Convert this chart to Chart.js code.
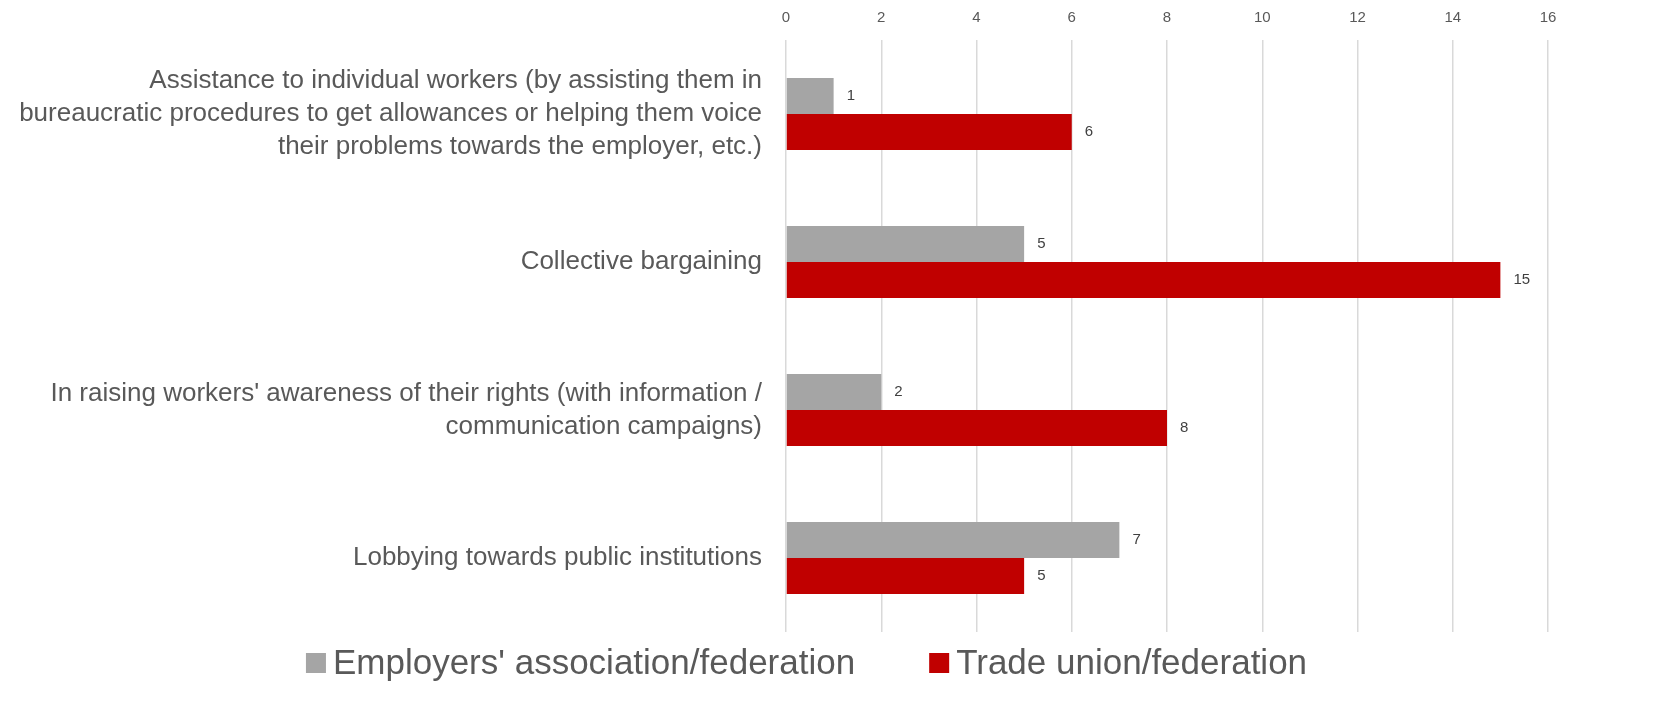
<!DOCTYPE html>
<html>
<head>
<meta charset="utf-8">
<script src="https://cdn.jsdelivr.net/npm/chart.js@4"></script>
<style>
  html, body { margin: 0; padding: 0; background: #fff; }
  #wrap { width: 1669px; height: 724px; }
</style>
</head>
<body>
<div id="wrap"><canvas id="barChart" width="1669" height="724"></canvas></div>
<script>
const categories = [
  ['Assistance to individual workers (by assisting them in', 'bureaucratic procedures to get allowances or helping them voice', 'their problems towards the employer, etc.)'],
  'Collective bargaining',
  ["In raising workers' awareness of their rights (with information /", 'communication campaigns)'],
  'Lobbying towards public institutions'
];
const employers = [1, 5, 2, 7];
const unions = [6, 15, 8, 5];
const seriesNames = ["Employers' association/federation", 'Trade union/federation'];
const seriesColors = ['#a5a5a5', '#c00000'];

const FONT = '"Liberation Sans", Arial, sans-serif';

// numbers at the end of each bar
const valueLabels = {
  id: 'valueLabels',
  afterDatasetsDraw(chart) {
    const ctx = chart.ctx;
    ctx.save();
    ctx.font = '15px ' + FONT;
    ctx.fillStyle = '#404040';
    ctx.textBaseline = 'middle';
    ctx.textAlign = 'left';
    chart.data.datasets.forEach((ds, i) => {
      chart.getDatasetMeta(i).data.forEach((bar, j) => {
        ctx.fillText(ds.data[j], bar.x + 13, bar.y);
      });
    });
    ctx.restore();
  }
};

// legend row under the plot (tight box-to-text gap like the original)
const bottomLegend = {
  id: 'bottomLegend',
  afterDraw(chart) {
    const ctx = chart.ctx;
    const ds = chart.data.datasets;
    ctx.save();
    ctx.font = '35px ' + FONT;
    ctx.textBaseline = 'middle';
    ctx.textAlign = 'left';
    const box = 20, gap = 7, between = 74;
    const widths = ds.map(d => ctx.measureText(d.label).width);
    let total = 0;
    widths.forEach((w, i) => { total += box + gap + w + (i < widths.length - 1 ? between : 0); });
    let x = chart.width / 2 - 28 - total / 2;
    const y = chart.chartArea.bottom + 31;
    ds.forEach((d, i) => {
      ctx.fillStyle = d.backgroundColor;
      ctx.fillRect(x, y - box / 2, box, box);
      ctx.fillStyle = '#595959';
      ctx.fillText(d.label, x + box + gap, y + 1);
      x += box + gap + widths[i] + between;
    });
    ctx.restore();
  }
};

const ctx = document.getElementById('barChart').getContext('2d');
new Chart(ctx, {
  type: 'bar',
  data: {
    labels: categories,
    datasets: [{
      label: seriesNames[0],
      data: employers,
      backgroundColor: seriesColors[0],
      categoryPercentage: 0.486,
      barPercentage: 1
    }, {
      label: seriesNames[1],
      data: unions,
      backgroundColor: seriesColors[1],
      categoryPercentage: 0.486,
      barPercentage: 1
    }]
  },
  options: {
    indexAxis: 'y',
    responsive: false,
    animation: false,
    layout: { padding: { left: 0, right: 121, top: 0, bottom: 92 } },
    scales: {
      x: {
        position: 'top',
        min: 0,
        max: 16,
        afterFit: scale => { scale.height = 40; },
        ticks: { stepSize: 2, color: '#595959', font: { size: 15, family: FONT }, padding: 13 },
        grid: { color: '#d9d9d9', lineWidth: 1.5, drawTicks: false },
        border: { display: false }
      },
      y: {
        afterFit: scale => { scale.width = 786; },
        ticks: { color: '#595959', font: { size: 26, family: FONT, lineHeight: 1.27 }, padding: 16 },
        grid: { display: false },
        border: { display: false }
      }
    },
    plugins: {
      legend: { display: false },
      tooltip: { enabled: false }
    }
  },
  plugins: [valueLabels, bottomLegend]
});
</script>
</body>
</html>
